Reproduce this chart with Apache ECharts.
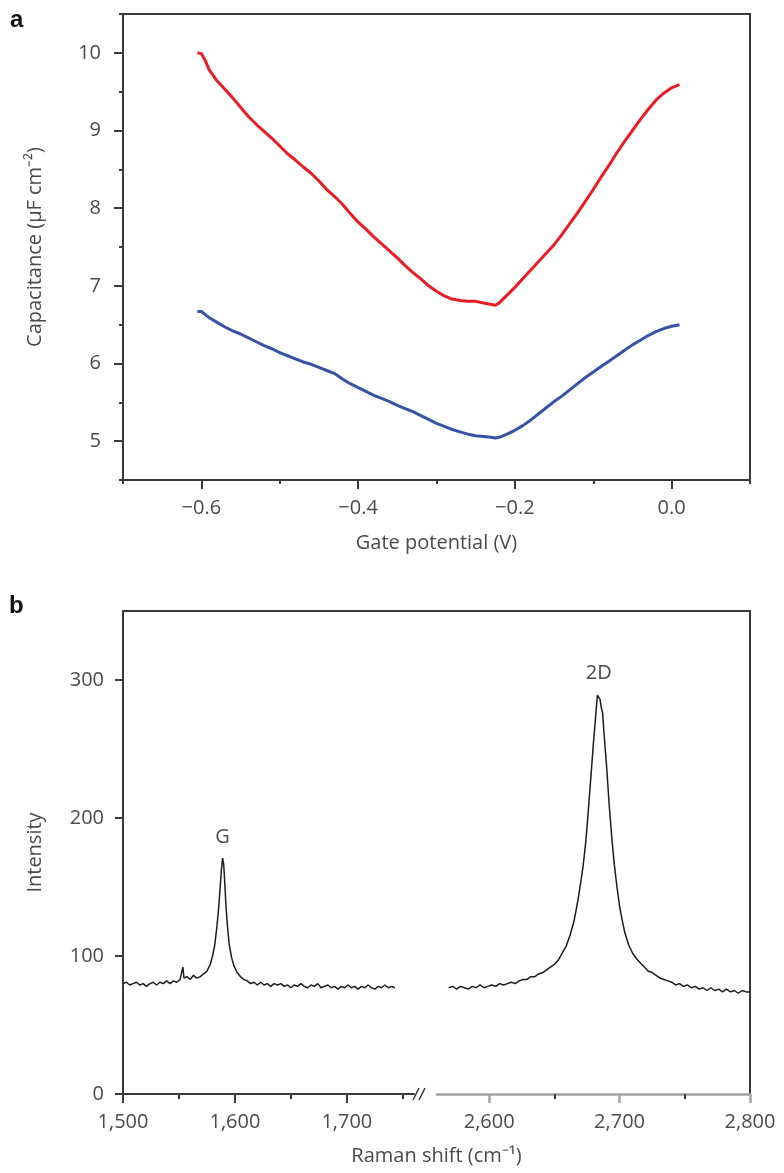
<!DOCTYPE html>
<html><head><meta charset="utf-8">
<script src="https://cdn.jsdelivr.net/npm/echarts@6/dist/echarts.min.js"></script>
<style>html,body{margin:0;padding:0;background:#fff}#c{width:784px;height:1173px}</style>
</head><body><div id="c"></div>
<script>
// ---------- Panel a: capacitance vs gate potential ----------
const gateV = [-0.605,-0.600,-0.595,-0.590,-0.580,-0.570,-0.560,-0.550,-0.540,-0.530,-0.520,-0.510,-0.500,-0.490,-0.480,-0.470,-0.460,-0.450,-0.440,-0.430,-0.420,-0.410,-0.400,-0.390,-0.380,-0.370,-0.360,-0.350,-0.340,-0.330,-0.320,-0.310,-0.300,-0.290,-0.280,-0.270,-0.260,-0.250,-0.240,-0.230,-0.225,-0.220,-0.210,-0.200,-0.190,-0.180,-0.170,-0.160,-0.150,-0.140,-0.130,-0.120,-0.110,-0.100,-0.090,-0.080,-0.070,-0.060,-0.050,-0.040,-0.030,-0.020,-0.010,0.000,0.010];
const capRed = [10.00,9.99,9.90,9.78,9.64,9.53,9.42,9.30,9.18,9.08,8.99,8.90,8.80,8.70,8.62,8.53,8.45,8.35,8.24,8.15,8.05,7.93,7.82,7.73,7.63,7.54,7.45,7.36,7.26,7.17,7.09,7.00,6.93,6.87,6.83,6.81,6.80,6.80,6.78,6.76,6.75,6.78,6.88,6.98,7.09,7.20,7.31,7.42,7.53,7.66,7.80,7.94,8.09,8.24,8.40,8.55,8.71,8.86,9.00,9.14,9.27,9.39,9.48,9.55,9.59];
const capBlue = [6.67,6.67,6.63,6.59,6.53,6.47,6.42,6.38,6.33,6.28,6.23,6.19,6.14,6.10,6.06,6.02,5.99,5.95,5.91,5.87,5.80,5.74,5.69,5.64,5.59,5.55,5.51,5.46,5.42,5.38,5.33,5.28,5.23,5.19,5.15,5.12,5.09,5.07,5.06,5.05,5.04,5.05,5.09,5.14,5.20,5.27,5.35,5.43,5.51,5.58,5.66,5.74,5.82,5.89,5.96,6.03,6.10,6.17,6.24,6.30,6.36,6.41,6.45,6.48,6.50];
const gateMajorTicks = [-0.6,-0.4,-0.2,0.0];
const gateMinorTicks = [-0.7,-0.5,-0.3,-0.1,0.1];
const capMajorTicks = [5,6,7,8,9,10];
const capMinorTicks = [4.5,5.5,6.5,7.5,8.5,9.5,10.5];

// ---------- Panel b: Raman spectrum, [shift cm-1, intensity] ----------
const ramanLow = [[1500,80],[1503,81],[1506,79],[1509,80],[1512,81],[1515,79],[1518,80],[1521,78],[1524,80],[1527,81],[1530,79],[1533,81],[1536,80],[1539,82],[1542,80],[1545,82],[1548,81],[1551,83],[1552.5,84],[1553.5,92],[1554.5,84],[1557,85],[1560,83],[1563,86],[1566,84],[1569,85],[1572,87],[1575,89],[1578,94],[1580,100],[1582,108],[1584,122],[1585.5,135],[1587,152],[1588,163],[1589,171],[1590,166],[1591,152],[1592,136],[1593.5,120],[1595,108],[1597,99],[1599,93],[1602,88],[1605,85],[1608,83],[1611,82],[1614,80],[1617,81],[1620,79],[1623,81],[1626,79],[1629,80],[1632,78],[1635,80],[1638,79],[1641,80],[1644,78],[1647,79],[1650,77],[1653,79],[1656,78],[1659,80],[1662,78],[1665,77],[1668,79],[1671,78],[1674,80],[1677,77],[1680,78],[1683,79],[1686,77],[1689,78],[1692,76],[1695,78],[1698,77],[1701,79],[1704,77],[1707,78],[1710,76],[1713,78],[1716,77],[1719,79],[1722,77],[1725,76],[1728,78],[1731,77],[1734,79],[1737,77],[1740,78],[1743,77]];
const ramanHigh = [[2569,77],[2572,78],[2575,76],[2578,78],[2581,77],[2584,76],[2587,78],[2590,77],[2593,79],[2596,77],[2599,78],[2602,79],[2605,78],[2608,80],[2611,79],[2614,80],[2617,81],[2620,80],[2623,82],[2626,83],[2629,83],[2632,85],[2635,85],[2638,87],[2641,88],[2644,90],[2647,92],[2650,94],[2653,97],[2656,102],[2659,107],[2662,115],[2665,125],[2668,140],[2670,152],[2672,165],[2674,182],[2676,205],[2678,230],[2680,255],[2681,266],[2682,278],[2683,289],[2684,290],[2685,286],[2686,280],[2687,276],[2688,262],[2690,238],[2692,210],[2694,186],[2696,166],[2698,150],[2700,136],[2702,126],[2704,117],[2707,108],[2710,102],[2713,98],[2716,95],[2719,92],[2722,89],[2725,88],[2728,86],[2731,84],[2734,83],[2737,82],[2740,81],[2743,79],[2746,80],[2749,78],[2752,79],[2755,77],[2758,78],[2761,76],[2764,77],[2767,75],[2770,77],[2773,75],[2776,76],[2779,74],[2782,76],[2785,74],[2788,75],[2791,73],[2794,75],[2797,74],[2800,74]];
const intensityTicks = [0,100,200,300];
const ramanLowMajor = [1500,1600,1700];
const ramanLowMinor = [1550,1650,1750];
const ramanHighMajor = [2600,2700,2800];
const ramanHighMinor = [2650,2750];
const peakLabels = ['G','2D'];

const FONT = 'Open Sans';
const TXT = '#4a4a4a';
const AX = '#3a3a3a';
const GRAY = '#a3a3a3';
const lbl = (extra) => Object.assign({fontFamily: FONT, fontSize: 20, color: TXT}, extra || {});
const nameStyle = {fontFamily: FONT, fontSize: 20, color: TXT};
const fmtGate = v => (v < -1e-9 ? '\u2212' : '') + Math.abs(v).toFixed(1);
const fmtComma = v => Math.round(v).toLocaleString('en-US');
const pairs = (xs, ys) => xs.map((x, i) => [x, ys[i]]);
const line = (c, w) => ({show: true, onZero: false, lineStyle: {color: c, width: w}});
const noLine = {show: false, onZero: false};

const chart = echarts.init(document.getElementById('c'), null, {renderer: 'canvas'});
chart.setOption({
  animation: false,
  backgroundColor: '#fff',
  grid: [
    {left: 123, top: 14, width: 627, height: 466, show: true, borderColor: AX, borderWidth: 2},
    {left: 123, top: 611, width: 627, height: 483},
    {left: 123, top: 611, width: 291, height: 483},
    {left: 437, top: 611, width: 313, height: 483}
  ],
  xAxis: [
    {gridIndex: 0, type: 'value', min: -0.7, max: 0.1, position: 'bottom',
     axisLine: line(AX, 2),
     axisTick: {show: true, customValues: gateMajorTicks, length: 9, lineStyle: {color: AX, width: 2}},
     axisLabel: lbl({customValues: gateMajorTicks, formatter: fmtGate, margin: 18}),
     splitLine: {show: false},
     name: 'Gate potential (V)', nameLocation: 'middle', nameGap: 53, nameTextStyle: nameStyle},
    {gridIndex: 0, type: 'value', min: -0.7, max: 0.1, position: 'bottom',
     axisLine: noLine,
     axisTick: {show: true, customValues: gateMinorTicks, length: 4, lineStyle: {color: AX, width: 2}},
     axisLabel: {show: false}, splitLine: {show: false}},
    {gridIndex: 1, type: 'value', min: 0, max: 1, position: 'top',
     axisLine: line(AX, 2),
     axisTick: {show: false}, axisLabel: {show: false}, splitLine: {show: false}},
    {gridIndex: 1, type: 'value', min: 0, max: 1, position: 'bottom',
     axisLine: noLine, axisTick: {show: false}, axisLabel: {show: false}, splitLine: {show: false},
     name: 'Raman shift (cm\u207B\u00B9)', nameLocation: 'middle', nameGap: 52, nameTextStyle: nameStyle},
    {gridIndex: 2, type: 'value', min: 1500, max: 1760, position: 'bottom',
     axisLine: line(AX, 2),
     axisTick: {show: true, customValues: ramanLowMajor, length: 9, lineStyle: {color: AX, width: 2}},
     axisLabel: lbl({customValues: ramanLowMajor, formatter: fmtComma, margin: 18}),
     splitLine: {show: false}},
    {gridIndex: 2, type: 'value', min: 1500, max: 1760, position: 'bottom',
     axisLine: noLine,
     axisTick: {show: true, customValues: ramanLowMinor, length: 5, lineStyle: {color: AX, width: 2}},
     axisLabel: {show: false}, splitLine: {show: false}},
    {gridIndex: 3, type: 'value', min: 2560, max: 2800, position: 'bottom',
     axisLine: line(GRAY, 2.5),
     axisTick: {show: true, customValues: ramanHighMajor, length: 9, lineStyle: {color: GRAY, width: 2.5}},
     axisLabel: lbl({customValues: ramanHighMajor, formatter: fmtComma, margin: 18}),
     splitLine: {show: false}},
    {gridIndex: 3, type: 'value', min: 2560, max: 2800, position: 'bottom',
     axisLine: noLine,
     axisTick: {show: true, customValues: ramanHighMinor, length: 5, lineStyle: {color: AX, width: 2}},
     axisLabel: {show: false}, splitLine: {show: false}}
  ],
  yAxis: [
    {gridIndex: 0, type: 'value', min: 4.5, max: 10.5, position: 'left',
     axisLine: line(AX, 2),
     axisTick: {show: true, customValues: capMajorTicks, length: 9, lineStyle: {color: AX, width: 2}},
     axisLabel: lbl({customValues: capMajorTicks, margin: 22}),
     splitLine: {show: false},
     name: 'Capacitance (\u03BCF cm\u207B\u00B2)', nameLocation: 'middle', nameGap: 78, nameTextStyle: nameStyle},
    {gridIndex: 0, type: 'value', min: 4.5, max: 10.5, position: 'left',
     axisLine: noLine,
     axisTick: {show: true, customValues: capMinorTicks, length: 4, lineStyle: {color: AX, width: 2}},
     axisLabel: {show: false}, splitLine: {show: false}},
    {gridIndex: 1, type: 'value', min: 0, max: 350, position: 'left',
     axisLine: line(AX, 2),
     axisTick: {show: true, customValues: intensityTicks, length: 8, lineStyle: {color: AX, width: 2}},
     axisLabel: lbl({customValues: intensityTicks, margin: 19}),
     splitLine: {show: false},
     name: 'Intensity', nameLocation: 'middle', nameGap: 78, nameTextStyle: nameStyle},
    {gridIndex: 1, type: 'value', min: 0, max: 350, position: 'right',
     axisLine: line(AX, 2),
     axisTick: {show: false}, axisLabel: {show: false}, splitLine: {show: false}},
    {gridIndex: 2, type: 'value', min: 0, max: 350, show: false, axisLine: noLine},
    {gridIndex: 3, type: 'value', min: 0, max: 350, show: false, axisLine: noLine}
  ],
  graphic: [
    {type: 'text', left: 10, top: 8, style: {text: 'a', font: 'bold 24px "Liberation Sans", Arial', fill: '#111'}},
    {type: 'text', left: 9, top: 594, style: {text: 'b', font: 'bold 24px "Liberation Sans", Arial', fill: '#111'}},
    {type: 'line', shape: {x1: 413, y1: 1100, x2: 419, y2: 1088}, style: {stroke: AX, lineWidth: 1.5}},
    {type: 'line', shape: {x1: 419, y1: 1100, x2: 425, y2: 1088}, style: {stroke: AX, lineWidth: 1.5}}
  ],
  series: [
    {type: 'line', xAxisIndex: 0, yAxisIndex: 0, data: pairs(gateV, capRed), showSymbol: false,
     lineStyle: {color: '#ec1c24', width: 3}, itemStyle: {color: '#ec1c24'}},
    {type: 'line', xAxisIndex: 0, yAxisIndex: 0, data: pairs(gateV, capBlue), showSymbol: false,
     lineStyle: {color: '#3653a6', width: 3}, itemStyle: {color: '#3653a6'}},
    {type: 'line', xAxisIndex: 4, yAxisIndex: 4, data: ramanLow, showSymbol: false,
     lineStyle: {color: '#1c1c1c', width: 1.5}, itemStyle: {color: '#1c1c1c'},
     markPoint: {symbol: 'circle', symbolSize: 1, itemStyle: {color: 'rgba(0,0,0,0)'},
       data: [{type: 'max', valueDim: 'y', name: peakLabels[0]}],
       label: {show: true, position: 'top', distance: 10, formatter: peakLabels[0], fontFamily: FONT, fontSize: 20, color: TXT}}},
    {type: 'line', xAxisIndex: 6, yAxisIndex: 5, data: ramanHigh, showSymbol: false,
     lineStyle: {color: '#1c1c1c', width: 1.5}, itemStyle: {color: '#1c1c1c'},
     markPoint: {symbol: 'circle', symbolSize: 1, itemStyle: {color: 'rgba(0,0,0,0)'},
       data: [{type: 'max', valueDim: 'y', name: peakLabels[1]}],
       label: {show: true, position: 'top', distance: 10, formatter: peakLabels[1], fontFamily: FONT, fontSize: 20, color: TXT}}}
  ]
});
</script>
</body></html>
